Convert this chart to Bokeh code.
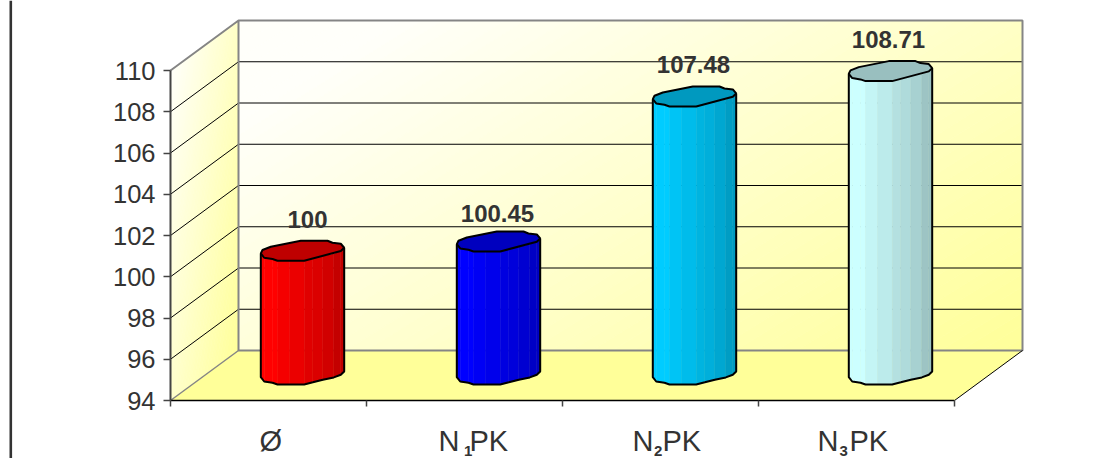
from bokeh.plotting import figure
from bokeh.models import Range1d, LinearAxis, FixedTicker, ColumnDataSource
from bokeh.core.properties import value
from bokeh.embed import file_html
from bokeh.resources import INLINE

# ---- data ----
categories = ["Ø", "N1PK", "N2PK", "N3PK"]
values = [100, 100.45, 107.48, 108.71]
value_labels = ["100", "100.45", "107.48", "108.71"]
bar_colors = [(255, 0, 0), (0, 0, 255), (0, 204, 255), (204, 255, 255)]
y_ticks = [94, 96, 98, 100, 102, 104, 106, 108, 110]
grid_values = [96, 98, 100, 102, 104, 106, 108]
x_ticks = [0, 1, 2, 3, 4]

# ---- layout (page pixels) ----
W, H = 1099, 458
X0, CAT_W = 170, 196        # page x of category 0, px per category
Y94, UNIT = 400, 20.625     # page y of value 94, px per value unit
DX, DY = 68, 50             # depth of the 3D box
FONT = value("Liberation Sans")
INK = "#333333"

def X(px):
    return (px - X0) / CAT_W

def Y(py):
    return 94 + (Y94 - py) / UNIT

def PY(v):
    return Y94 - (v - 94) * UNIT

p = figure(width=W, height=H, output_backend="svg", toolbar_location=None,
           x_axis_location=None, y_axis_location=None, min_border=0,
           x_range=Range1d(X(0), X(W)), y_range=Range1d(Y(H), Y(0)))
p.outline_line_color = None
p.grid.visible = False
p.background_fill_color = "white"
p.border_fill_color = "white"


def clip(poly, a, b, c0, keep_below):
    out = []
    n = len(poly)
    for i in range(n):
        x1, y1 = poly[i]
        x2, y2 = poly[(i + 1) % n]
        d1 = a * x1 + b * y1 - c0
        d2 = a * x2 + b * y2 - c0
        if not keep_below:
            d1, d2 = -d1, -d2
        if d1 <= 0:
            out.append((x1, y1))
        if d1 * d2 < 0:
            t = d1 / (d1 - d2)
            out.append((x1 + t * (x2 - x1), y1 + t * (y2 - y1)))
    return out


def gradient(poly, a, b, c_start, c_end, strips=48, lead=0.0):
    """Fill a polygon in bands along direction (a,b), from its lowest to its highest t."""
    ts = [a * q[0] + b * q[1] for q in poly]
    t0, t1 = min(ts), max(ts)
    xs, ys, cs = [], [], []
    for k in range(strips):
        lo = t0 + (t1 - t0) * k / strips
        hi = t0 + (t1 - t0) * (k + 1) / strips
        piece = clip(clip(poly, a, b, hi, True), a, b, lo, False)
        if len(piece) < 3:
            continue
        f = min(1, max(0, ((k + 0.5) / strips - lead) / (1 - lead)))
        col = tuple(int(round(c_start[j] + (c_end[j] - c_start[j]) * f)) for j in range(3))
        xs.append([X(q[0]) for q in piece])
        ys.append([Y(q[1]) for q in piece])
        cs.append("#%02x%02x%02x" % col)
    p.patches(xs, ys, fill_color=cs, line_color=cs, line_width=0.7)


WHITE, YELLOW = (255, 255, 250), (255, 255, 153)
LEFT, RIGHT = X0, X0 + 4 * CAT_W
TOP, BOT = PY(110), PY(94)

# back wall
back = [(LEFT + DX, TOP - DY), (RIGHT + DX, TOP - DY), (RIGHT + DX, BOT - DY), (LEFT + DX, BOT - DY)]
gradient(back, 1, 1.6, WHITE, YELLOW, 64, lead=0.12)
# side wall
side = [(LEFT, TOP), (LEFT + DX, TOP - DY), (LEFT + DX, BOT - DY), (LEFT, BOT)]
gradient(side, 1, 0.16, WHITE, YELLOW, 40)
# floor
p.patch([X(LEFT), X(RIGHT), X(RIGHT + DX), X(LEFT + DX)],
        [Y(BOT), Y(BOT), Y(BOT - DY), Y(BOT - DY)], fill_color="#ffff99", line_color=None)

# gridlines
for v in grid_values:
    p.line([X(LEFT), X(LEFT + DX), X(RIGHT + DX)], [v, Y(PY(v) - DY), Y(PY(v) - DY)],
           line_color="black", line_width=1)

# box edges
GREY = "#858585"
p.line([X(LEFT), X(LEFT + DX), X(RIGHT + DX), X(RIGHT + DX), X(LEFT + DX), X(LEFT + DX)],
       [Y(TOP), Y(TOP - DY), Y(TOP - DY), Y(BOT - DY), Y(BOT - DY), Y(TOP - DY)],
       line_color=GREY, line_width=2)
p.line([X(LEFT), X(LEFT + DX)], [Y(BOT), Y(BOT - DY)], line_color=GREY, line_width=1.5)
p.line([X(RIGHT), X(RIGHT + DX)], [Y(BOT), Y(BOT - DY)], line_color="black", line_width=1)

# the stem of the outer frame on the far left
p.line([X(10.3), X(10.3)], [Y(0), Y(H)], line_color="#333333", line_width=2.6)

# cross-section of a bar, px around its centre
outline = [(-41.7, 2.7), (-40, -0.7), (-31.7, -4), (-1.7, -10), (25, -10), (30, -8), (38.3, -7),
           (41.7, -3), (38.3, 0.3), (1.7, 10), (-25, 10), (-30, 8.3), (-38.3, 7)]
# lower edge, left to right, with the shade of each facet
lower = [(-41.7, 2.7), (-38.3, 7), (-30, 8.3), (-25, 10), (-13, 10), (1.7, 10), (10.3, 7.8),
         (20.3, 5.2), (31.3, 2.9), (38.3, 0.3), (41.7, -3)]
shade = [1.0, 1.0, 1.0, 0.96, 0.92, 0.88, 0.86, 0.82, 0.77, 0.76]
TOP_SHADE = 0.75


def tone(c, f):
    return "#%02x%02x%02x" % tuple(int(round(x * f)) for x in c)


for i, (v, c) in enumerate(zip(values, bar_colors)):
    cx = X0 + (i + 0.5) * CAT_W + DX / 2
    py_top, py_bot = PY(v) - DY / 2 - 1, PY(94) - DY / 2 - 1
    for k in range(len(lower) - 1):
        (x1, y1), (x2, y2) = lower[k], lower[k + 1]
        col = tone(c, shade[k])
        p.patch([X(cx + x1), X(cx + x2), X(cx + x2), X(cx + x1)],
                [Y(py_top + y1), Y(py_top + y2), Y(py_bot + y2), Y(py_bot + y1)],
                fill_color=col, line_color=col, line_width=0.5)
    # outline of body
    body_x = [X(cx + q[0]) for q in lower]
    body_y = [Y(py_bot + q[1]) for q in lower]
    p.line([X(cx - 41.7)] + body_x + [X(cx + 41.7)],
           [Y(py_top + 2.7)] + body_y + [Y(py_top - 3)],
           line_color="black", line_width=2)
    # top
    p.patch([X(cx + q[0]) for q in outline], [Y(py_top + q[1]) for q in outline],
            fill_color=tone(c, TOP_SHADE), line_color="black", line_width=2)

# data labels
label_dx = [5, -1, -1, -2]
label_dy = [31, 28, 32, 32]
p.text([i + 0.5 + X(X0 + DX / 2) for i in range(4)], [Y(PY(v) - DY / 2 - 1) for v in values],
       text=value_labels, x_offset=label_dx, y_offset=[-d for d in label_dy],
       text_font=FONT, text_font_style="bold", text_font_size="24px", text_color=INK,
       text_align="center", text_baseline="middle")

# axes
yax = LinearAxis(fixed_location=0, bounds=(94, 110), ticker=FixedTicker(ticks=y_ticks))
yax.axis_line_color = "#444444"
yax.axis_line_width = 2
yax.major_tick_line_color = "#444444"
yax.major_tick_line_width = 1.5
yax.major_tick_in = 0
yax.major_tick_out = 7
yax.minor_tick_line_color = None
yax.major_label_standoff = 8
yax.major_label_text_font = "Liberation Sans"
yax.major_label_text_font_size = "25.5px"
yax.major_label_text_color = INK
p.add_layout(yax, "left")

xax = LinearAxis(fixed_location=94, bounds=(0, 4), ticker=FixedTicker(ticks=x_ticks))
xax.axis_line_color = "black"
xax.axis_line_width = 1.5
xax.major_tick_line_color = "#444444"
xax.major_tick_line_width = 1.5
xax.major_tick_in = 0
xax.major_tick_out = 6
xax.minor_tick_line_color = None
xax.major_label_text_font_size = "0px"
xax.major_label_text_color = None
p.add_layout(xax, "below")

# category labels, written in parts because of the subscripts
BASE = 440
big = ColumnDataSource(dict(x=[X(259), X(438), X(469), X(632), X(662), X(817), X(849)],
                            t=["Ø", "N", "PK", "N", "PK", "N", "PK"]))
p.text("x", Y(BASE), text="t", source=big, text_font=FONT, text_font_size="29px", text_color=INK,
       text_align="left", text_baseline="alphabetic")
p.text([X(463.5), X(653.5), X(839)], Y(BASE + 10), text=["1", "2", "3"], text_font=FONT,
       text_font_style="bold", text_font_size="15px", text_color=INK,
       text_align="left", text_baseline="alphabetic")

open("out.html", "w").write(file_html(p, INLINE))
